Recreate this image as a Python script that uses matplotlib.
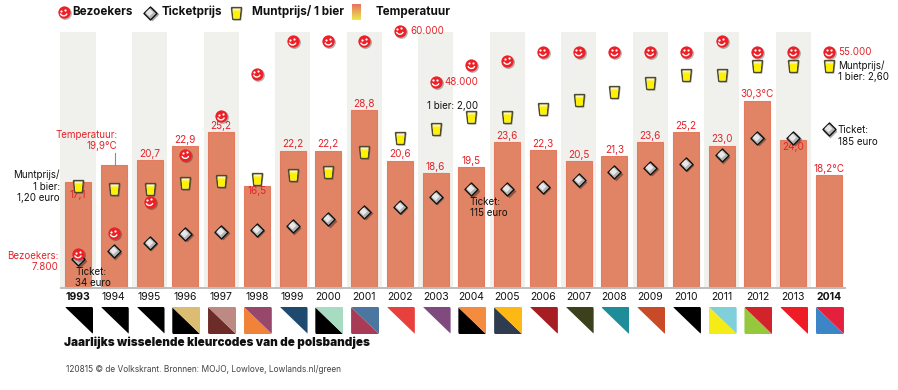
import numpy as np
import matplotlib
matplotlib.use("Agg")
import matplotlib.pyplot as plt
from matplotlib.path import Path
from matplotlib.patches import Polygon, FancyBboxPatch
from matplotlib.transforms import ScaledTranslation

years = list(range(1993, 2015))
temperature = [17.1, 19.9, 20.7, 22.9, 25.2, 16.5, 22.2, 22.2, 28.8, 20.6, 18.6, 19.5,
               23.6, 22.3, 20.5, 21.3, 23.6, 25.2, 23.0, 30.3, 24.0, 18.2]
temp_labels = ["17,1", "", "20,7", "22,9", "25,2", "16,5", "22,2", "22,2", "28,8", "20,6", "18,6", "19,5",
               "23,6", "22,3", "20,5", "21,3", "23,6", "25,2", "23,0", "30,3°C", "24,0", "18,2°C"]
visitors = [7800, 12700, 20000, 31000, 40000, 50000, 57500, 57500, 57500, 60000, 48000, 52000,
            53000, 55000, 55000, 55000, 55000, 55000, 57500, 55000, 55000, 55000]
beer = [1.20, 1.16, 1.16, 1.235, 1.25, 1.28, 1.325, 1.365, 1.60, 1.76, 1.86, 2.00,
        2.00, 2.10, 2.20, 2.30, 2.40, 2.50, 2.50, 2.60, 2.60, 2.60]
ticket = [34, 43, 53, 63.5, 66, 68, 72, 80, 89, 95, 106.5, 115,
          115, 118, 125.5, 135, 140, 145, 155, 175, 175, 185]
band_upper = ["#000000", "#000000", "#000000", "#dcbb72", "#bc8a82", "#97476a", "#1f4a70", "#a8dcc2",
              "#4a76a0", "#e8403c", "#7f4a7d", "#f58b3e", "#fdb813", "#a61e22", "#3c401c", "#1f8c9a",
              "#c84a27", "#000000", "#7fd0da", "#d2232a", "#ee1c25", "#e4203c"]
band_lower = ["#ffffff", "#ffffff", "#ffffff", "#000000", "#6e2c29", "#f08239", "#ffffff", "#000000",
              "#a83b55", "#ffffff", "#ffffff", "#000000", "#2f3c4f", "#ffffff", "#ffffff", "#ffffff",
              "#ffffff", "#ffffff", "#f5ec17", "#95c83c", "#ffffff", "#3c86c8"]

W, H = 898, 390
plt.rcParams['font.family'] = ['Inter', 'DejaVu Sans']
fig = plt.figure(figsize=(W / 100, H / 100), dpi=100, facecolor='white')

X0, XSTEP = 78.0, 35.76
def new_axes(name, ref, px, ppu, z):
    ax = fig.add_axes([0, 0, 1, 1], label=name, zorder=z)
    ax.set_xlim(1993 - X0 / XSTEP, 1993 + (W - X0) / XSTEP)
    ax.set_ylim(ref - (H - px) / ppu, ref + px / ppu)
    ax.axis('off')
    return ax

ax_t = new_axes('temp', 0, 287.7, 6.17, 1)
ax_k = new_axes('ticket', 34, 259, 0.859, 2)
ax_b = new_axes('beer', 2.0, 117.3, 85.5, 3)
ax_v = new_axes('visitors', 60000, 30.7, 0.00428, 4)
ax_p = fig.add_axes([0, 0, 1, 1], label='px', zorder=5)
ax_p.set_xlim(0, W); ax_p.set_ylim(H, 0); ax_p.axis('off')

def shift(ax, dx, dy):
    return ax.transData + ScaledTranslation(dx / 100, dy / 100, fig.dpi_scale_trans)

SMILE = Path.arc(200, 340)
GLASS = Path([(-.85, 1), (.85, 1), (.62, -1), (-.62, -1), (-.85, 1)])
LIQ = Path([(-.78, .62), (.78, .62), (.62, -1), (-.62, -1), (-.78, .62)])

def smileys(ax, x, y):
    ax.scatter(x, y, s=86, c='#000000', alpha=.28, lw=0, transform=shift(ax, 1, -1), zorder=5)
    ax.scatter(x, y, s=78, c='#ee2027', lw=0, zorder=6)
    ax.scatter(x, y, s=2.6, c='white', lw=0, transform=shift(ax, -2.4, 1.6), zorder=7)
    ax.scatter(x, y, s=2.6, c='white', lw=0, transform=shift(ax, 1.6, 2.4), zorder=7)
    ax.scatter(x, y, s=26, marker=SMILE, facecolors='none', edgecolors='white', lw=1.0, zorder=7)

def glasses(ax, x, y):
    ax.scatter(x, y, s=78, marker=GLASS, c='#000000', alpha=.3, lw=0, transform=shift(ax, 1, -1), zorder=5)
    ax.scatter(x, y, s=72, marker=GLASS, c='#fbf3c8', edgecolors='#4d4a2c', lw=1.1, zorder=6)
    ax.scatter(x, y, s=50, marker=LIQ, c='#fff200', lw=0, zorder=7)

def diamonds(ax, x, y):
    ax.scatter(x, y, s=50, marker='D', c='#000000', alpha=.35, lw=0, transform=shift(ax, 1.5, -1.5), zorder=5)
    ax.scatter(x, y, s=44, marker='D', c='#b5b5b5', edgecolors='#111111', lw=1.0, zorder=6)
    ax.scatter(x, y, s=16, marker='D', c='#e8e8e8', lw=0, transform=shift(ax, -1, 1), zorder=7)

# Temperature bars and background bands
ax_t.bar(years[::2], [41.4] * 11, width=0.98, color='#f0f1ec', lw=0, zorder=1)
ax_t.bar(years, temperature, width=0.727, color='#e08465', edgecolor='#e47a5f', lw=0.8, zorder=2)
ax_t.plot([years[0] - .51, years[-1] + .47], [0, 0], color='#bdbdbd', lw=1.4, zorder=3, solid_capstyle='butt')

RED = '#e2242b'
offsets = {"17,1": -9.0, "16,5": -3.6, "24,0": -5.5}
for yr, t, lab in zip(years, temperature, temp_labels):
    if not lab:
        continue
    ax_t.annotate(lab, (yr, t), xytext=(0, offsets.get(lab, 4.6)), textcoords='offset points',
                  ha='center', va='center', color=RED, fontsize=7.2, zorder=4)

diamonds(ax_k, years, ticket)
glasses(ax_b, years, beer)
smileys(ax_v, years, visitors)

# Year labels and wristband swatches
for i, (yr, up, lo) in enumerate(zip(years, band_upper, band_lower)):
    cx = X0 + XSTEP * i
    bold = yr in (1993, 2014)
    ax_p.text(cx, 297, str(yr), ha='center', va='center', fontsize=7.5, color='#111111',
              fontweight='bold' if bold else 'normal')
    l, r, t, b = cx - 13, cx + 15, 306.7, 334.3
    clip = FancyBboxPatch((l + 1, t + 1), r - l - 2, b - t - 2, boxstyle='round,pad=1,rounding_size=2',
                          transform=ax_p.transData, fc='none', ec='none')
    ax_p.add_patch(clip)
    p1 = Polygon([(l, t), (r, t), (r, b)], closed=True, fc=up, ec='none')
    p2 = Polygon([(l, t), (l, b), (r, b)], closed=True, fc=lo, ec='none')
    for p in (p2, p1):
        ax_p.add_patch(p)
        p.set_clip_path(clip)

# Legend
smileys(ax_p, [63.7], [12.3])
diamonds(ax_p, [150], [12.5])
glasses(ax_p, [236], [12.5])
g = np.linspace(0, 1, 32).reshape(-1, 1, 1)
grad = g * np.array([[[0.93, 0.91, 0.30]]]) + (1 - g) * np.array([[[0.90, 0.45, 0.38]]])
ax_p.imshow(grad, extent=(352, 361, 20.5, 4.5), aspect='auto', zorder=3)
ax_p.set_xlim(0, W); ax_p.set_ylim(H, 0)
for x, s in [(72.7, 'Bezoekers'), (162, 'Ticketprijs'), (251.5, 'Muntprijs/ 1 bier'), (376, 'Temperatuur')]:
    ax_p.text(x, 12, s, ha='left', va='center', fontsize=8.4, fontweight='bold', color='#111111')

# Annotations
def note(x, y, s, color='#111111', ha='left', fs=7.0, **kw):
    ax_p.text(x, y, s, ha=ha, va='center', color=color, fontsize=fs, zorder=10, **kw)

note(117.5, 135, 'Temperatuur:', RED, 'right')
note(117.5, 146, '19,9°C', RED, 'right')
ax_p.plot([115, 115], [153, 165], color='#8c8c8c', lw=0.8)
note(60, 175, 'Muntprijs/', ha='right')
note(60, 186.5, '1 bier:', ha='right')
note(60, 198, '1,20 euro', ha='right')
note(58, 255.7, 'Bezoekers:', RED, 'right')
note(58, 266.5, '7.800', RED, 'right')
note(75, 271.7, 'Ticket:')
note(75, 282.5, '34 euro')
note(410, 30.7, '60.000', RED)
note(444, 82, '48.000', RED)
note(426.7, 106, '1 bier: 2,00')
note(469.5, 202, 'Ticket:')
note(469.5, 213.5, '115 euro')
note(837.7, 51.7, '55.000', RED)
note(837.7, 65.7, 'Muntprijs/')
note(837.7, 76.7, '1 bier: 2,60')
note(837.7, 130, 'Ticket:')
note(837.7, 142, '185 euro')
note(64, 343, 'Jaarlijks wisselende kleurcodes van de polsbandjes', fs=8.4, fontweight='black')
note(66, 370, '120815 © de Volkskrant. Bronnen: MOJO, Lowlove, Lowlands.nl/green', '#444444', fs=6.0)

fig.savefig('out.png', dpi=100, facecolor='white')
